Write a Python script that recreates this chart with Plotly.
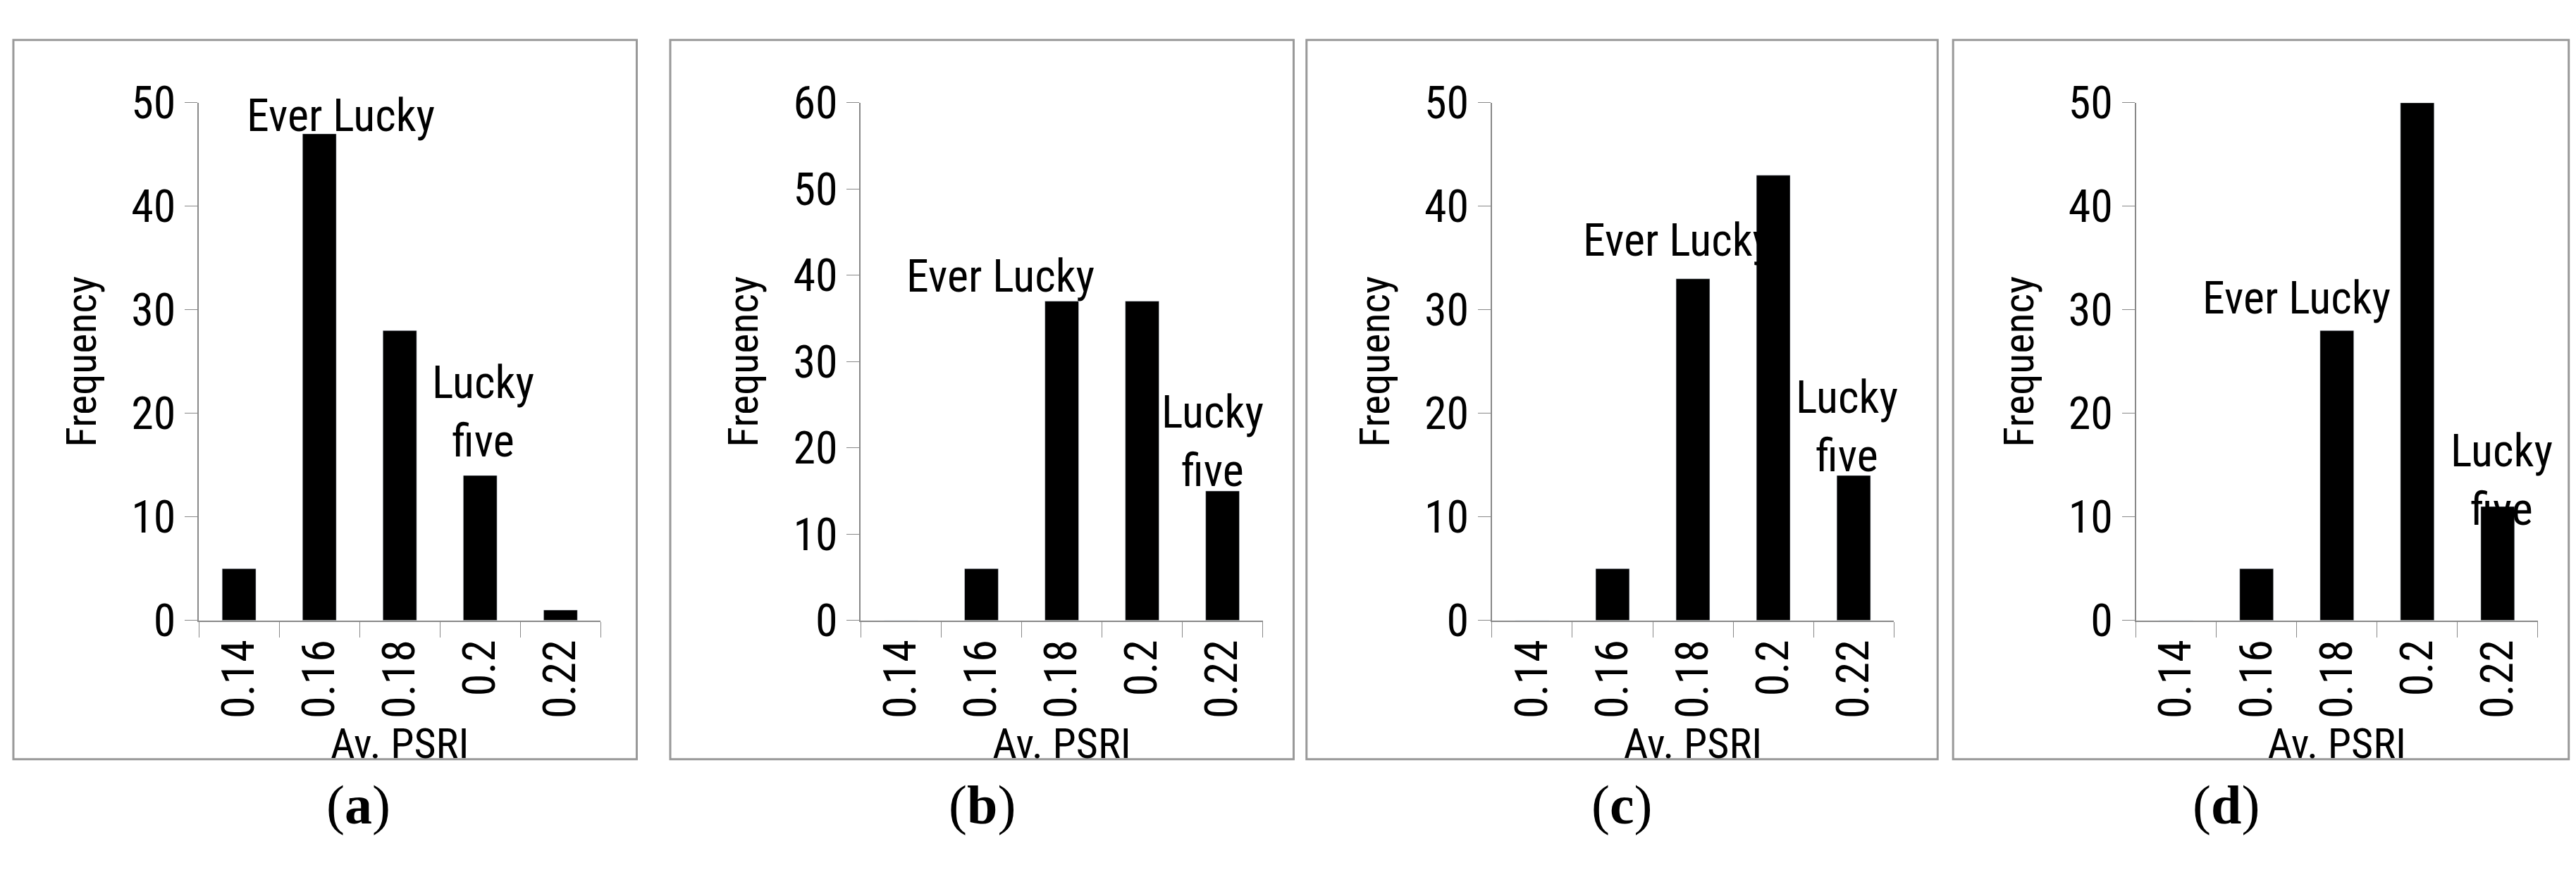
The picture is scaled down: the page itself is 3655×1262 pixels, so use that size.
import plotly.graph_objects as go

cats = ["0.14", "0.16", "0.18", "0.2", "0.22"]
freq_a = [5, 47, 28, 14, 1]
freq_b = [0, 6, 37, 37, 15]
freq_c = [0, 5, 33, 43, 14]
freq_d = [0, 5, 28, 50, 11]
series = [freq_a, freq_b, freq_c, freq_d]
ymax = [50, 60, 50, 50]
panel_labels = ["a", "b", "c", "d"]
ever_pos = [(1.27, 48.7), (1.24, 39.9), (1.8, 36.7), (1.5, 31.1)]
five_pos = [(3.04, 20.1), (3.88, 20.7), (3.92, 18.7), (4.05, 13.5)]

xdom = [(0.075, 0.231), (0.332, 0.488), (0.577, 0.733), (0.827, 0.983)]
boxes = [(0.003, 0.245), (0.258, 0.500), (0.505, 0.750), (0.756, 0.995)]
ydom = (0.296, 0.915)
FONT = "Liberation Sans Narrow, Roboto Condensed, Liberation Sans, sans-serif"

fig = go.Figure()
shapes, annots = [], []
for i, vals in enumerate(series):
    n = "" if i == 0 else str(i + 1)
    fig.add_trace(go.Bar(x=cats, y=vals, marker_color="black", width=0.42,
                         xaxis="x" + n, yaxis="y" + n, showlegend=False))
    fig.update_layout(**{
        "xaxis" + n: dict(domain=xdom[i], anchor="y" + n, type="category",
                          categoryorder="array", categoryarray=cats,
                          range=[-0.5, 4.5], tickangle=-90, ticks="outside",
                          tickson="boundaries", ticklen=22, tickcolor="#888",
                          showline=True, linecolor="#888", linewidth=2,
                          showgrid=False,
                          tickfont=dict(size=64, family=FONT, color="black"),
                          title=dict(text="Av. PSRI", standoff=6,
                                     font=dict(size=60, family=FONT, color="black"))),
        "yaxis" + n: dict(domain=ydom, anchor="x" + n, range=[0, ymax[i]],
                          dtick=10, ticks="outside", ticklen=18, tickcolor="#888",
                          showline=True, linecolor="#888", linewidth=2,
                          showgrid=False, zeroline=False,
                          tickfont=dict(size=64, family=FONT, color="black"),
                          title=dict(text="Frequency", standoff=30,
                                     font=dict(size=60, family=FONT, color="black"))),
    })
    x0, x1 = boxes[i]
    shapes.append(dict(type="rect", xref="paper", yref="paper", x0=x0, x1=x1,
                       y0=0.13, y1=0.99, line=dict(color="#999", width=3)))
    annots.append(dict(x=ever_pos[i][0], y=ever_pos[i][1], xref="x" + n, yref="y" + n,
                       text="Ever Lucky", showarrow=False,
                       font=dict(size=64, family=FONT, color="black")))
    annots.append(dict(x=five_pos[i][0], y=five_pos[i][1], xref="x" + n, yref="y" + n,
                       text="Lucky<br>five", showarrow=False,
                       font=dict(size=64, family=FONT, color="black")))
    annots.append(dict(x=(x0 + x1) / 2, y=0.037, xref="paper", yref="paper",
                       text="(<b>%s</b>)" % panel_labels[i], showarrow=False,
                       font=dict(size=78, family="Liberation Serif, serif", color="black")))

fig.update_layout(width=3655, height=1262, margin=dict(l=0, r=0, t=0, b=0),
                  paper_bgcolor="white", plot_bgcolor="white",
                  shapes=shapes, annotations=annots)
fig.write_html("out.html")
